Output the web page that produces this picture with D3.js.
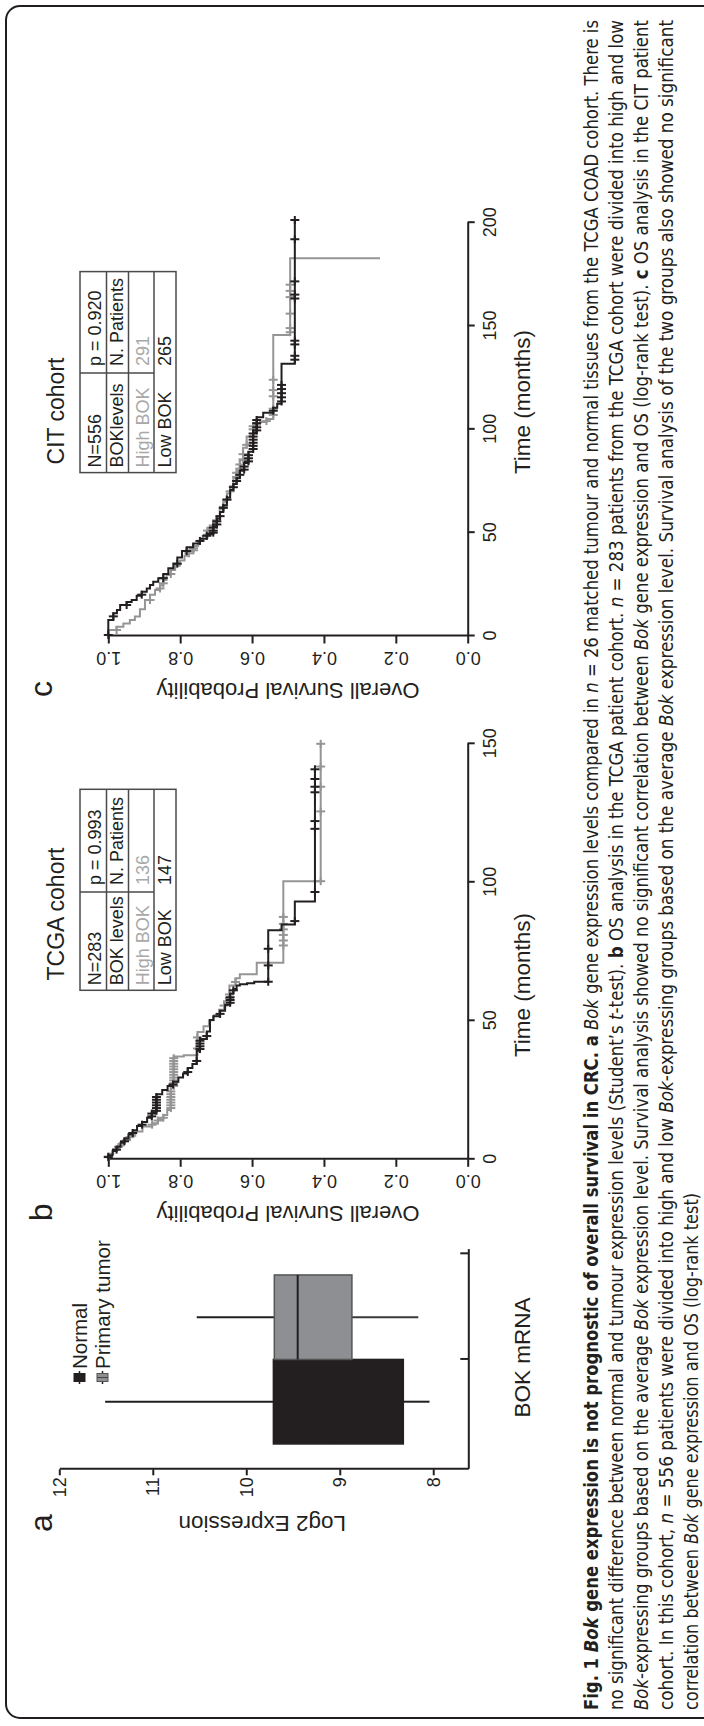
<!DOCTYPE html>
<html>
<head>
<meta charset="utf-8">
<script src="https://cdn.jsdelivr.net/npm/d3@7"></script>
<style>
  body { margin: 0; background: #fff; }
  svg { display: block; }
  .axis path, .axis line { stroke: #231f20; stroke-width: 2; }
  .axis text { fill: #231f20; font-family: "Liberation Sans", Arial, sans-serif; font-size: 18px; }
</style>
</head>
<body>
<div id="chart"></div>
<script>
const W = 704, H = 1726;
const INK = "#231f20";
const GREY = "#959595";
const FONT = '"Liberation Sans", Arial, Helvetica, sans-serif';
const CAPTION_FONT = '"Liberation Sans Narrow", "DejaVu Sans Condensed", "Roboto Condensed", "Liberation Sans", sans-serif';

// ---- panel a: BOK mRNA box plot ----
const boxGroups = ["Normal", "Primary tumor"];
// [min, q1, median, q3, max]
const boxStats = [
  [8.04, 8.32, 9.05, 9.71, 11.51],
  [8.16, 8.87, 9.45, 9.70, 10.53],
];
const boxFills = [INK, "#8e8f92"];
const exprTicks = [8, 9, 10, 11, 12];

// ---- panel b: TCGA cohort, Kaplan-Meier [months, survival] ----
const tcgaLow = [
  [0, 1], [1.5, 0.988], [3, 0.977], [4.5, 0.966], [6, 0.955], [7.5, 0.944], [9, 0.932],
  [10.5, 0.92], [12, 0.906], [13.5, 0.892], [15, 0.879], [17, 0.866], [23.5, 0.85],
  [25, 0.835], [26.5, 0.82], [28, 0.805], [29.5, 0.792], [31, 0.779], [33, 0.766],
  [34.4, 0.754], [39.2, 0.745], [43.4, 0.726], [46.1, 0.717], [50.3, 0.708], [51.6, 0.689],
  [53.6, 0.675], [55.8, 0.661], [59.9, 0.652], [61.5, 0.643], [62.7, 0.634], [63.2, 0.614],
  [63.6, 0.594], [64.1, 0.555], [82.7, 0.518], [84.8, 0.481], [93.1, 0.425], [141, 0.425],
];
const tcgaLowCensor = [0.8, 3.5, 6.5, 9.5, 12.5, 15.5, 16.5, 17.5, 18.5, 19.5, 20.5, 21.5, 22.5,
  27, 31.5, 35.5, 39.8, 40.8, 41.8, 42.8, 44.5, 52.5, 56.5, 57.5, 58.5, 61, 64.1, 70, 76, 86,
  96.5, 119.3, 122.1, 132.5, 134.5, 137.3, 140.8];
const tcgaHigh = [
  [0, 1], [2, 0.986], [3.5, 0.972], [5, 0.958], [7, 0.94], [8.5, 0.925], [10, 0.905],
  [11.8, 0.878], [13, 0.862], [14.5, 0.847], [16, 0.836], [17.8, 0.826], [26, 0.818],
  [37.1, 0.79], [37.6, 0.752], [46, 0.735], [48, 0.72], [50.2, 0.706], [52, 0.692],
  [54, 0.678], [57.1, 0.663], [62.7, 0.646], [65.4, 0.634], [66.8, 0.587], [71, 0.513],
  [100.4, 0.409], [150, 0.409],
];
const tcgaHighCensor = [1, 4.5, 8, 12.5, 14, 15, 18.5, 19.5, 20.5, 21.5, 22.5, 23.5, 24.5,
  26.5, 27.5, 28.5, 29.5, 30.5, 31.5, 32.5, 33.5, 34.5, 35.5, 36.5, 40, 44, 55.5, 58.2, 59.5,
  64, 77.2, 79, 81, 83, 85, 87.5, 100.4, 125.6, 134.5, 141.8, 150];
const tcgaTable = [["N=283", "p = 0.993"], ["BOK levels", "N. Patients"], ["High BOK", "136"], ["Low BOK", "147"]];

// ---- panel c: CIT cohort ----
const citLow = [
  [0, 1], [7.7, 0.986], [11, 0.976], [12.6, 0.967], [15, 0.949], [16.5, 0.935], [17.4, 0.921],
  [19.5, 0.907], [21.4, 0.893], [23, 0.884], [24.7, 0.875], [26.3, 0.861], [27.9, 0.847],
  [30, 0.833], [32.8, 0.819], [35, 0.808], [38, 0.795], [41.1, 0.782], [43, 0.764],
  [44.8, 0.745], [47, 0.726], [49.4, 0.708], [53, 0.698], [56.8, 0.689], [60, 0.68],
  [63.3, 0.67], [67, 0.661], [70.7, 0.652], [73.5, 0.643], [76.3, 0.634], [80, 0.622],
  [83.7, 0.61], [89.2, 0.597], [98.5, 0.587], [105.9, 0.569], [108, 0.541], [110.5, 0.53],
  [112.4, 0.518], [131.8, 0.481], [201.3, 0.481],
];
const citLowCensor = [0.5, 9.5, 15, 20, 28, 35, 41.1, 46, 48.5, 50, 51, 52.5, 54, 55.5, 58, 62,
  66, 72, 75, 78, 80.5, 82, 84.5, 86, 87.5, 90.5, 92, 93.5, 95, 96.5, 98, 99.5, 101, 103, 104.5,
  109, 113.5, 115.5, 117.5, 119.5, 121.5, 133.7, 135.6, 141.1, 142.9, 163.3, 165.2, 171.6, 192, 201.3];
const citHigh = [
  [0, 1], [2.9, 0.977], [4.5, 0.958], [6.1, 0.94], [7.8, 0.926], [9.4, 0.912], [13, 0.898],
  [17.4, 0.884], [20, 0.87], [22.3, 0.856], [24.5, 0.847], [27.1, 0.838], [29.5, 0.826],
  [31.9, 0.814], [34, 0.801], [36.5, 0.788], [38.8, 0.776], [41, 0.763], [43.5, 0.75],
  [46, 0.737], [48.5, 0.724], [52.2, 0.708], [55, 0.699], [58, 0.69], [61.5, 0.68],
  [65, 0.67], [68.9, 0.661], [72.5, 0.652], [76.5, 0.643], [80, 0.634], [85, 0.625],
  [91.1, 0.615], [96.6, 0.597], [102.2, 0.578], [103.5, 0.56], [105, 0.541], [145.7, 0.494],
  [182.8, 0.244],
];
const citHighCensor = [2.9, 17.4, 23, 25.5, 30, 40, 41.5, 42.5, 49, 51, 53.5, 56, 62.5, 66, 70,
  77, 79, 81, 83, 85.5, 88, 92.5, 100, 101.5, 104, 107, 110, 116, 119, 124, 147, 149, 156, 164, 167, 170];
const citTable = [["N=556", "p = 0.920"], ["BOKlevels", "N. Patients"], ["High BOK", "291"], ["Low BOK", "265"]];

const survTicks = [0, 0.2, 0.4, 0.6, 0.8, 1.0];

// ---- caption: one array per line, [text, style] ----
const captionLines = [
  [["Fig. 1 ", "b"], ["Bok", "bi"], [" gene expression is not prognostic of overall survival in CRC.", "b"], [" a", "b"],
   [" ", ""], ["Bok", "i"], [" gene expression levels compared in ", ""], ["n", "i"],
   [" = 26 matched tumour and normal tissues from the TCGA COAD cohort. There is", ""]],
  [["no significant difference between normal and tumour expression levels (Student\u2019s ", ""], ["t", "i"],
   ["-test). ", ""], ["b", "b"], [" OS analysis in the TCGA patient cohort. ", ""], ["n", "i"],
   [" = 283 patients from the TCGA cohort were divided into high and low", ""]],
  [["Bok", "i"], ["-expressing groups based on the average ", ""], ["Bok", "i"],
   [" expression level. Survival analysis showed no significant correlation between ", ""], ["Bok", "i"],
   [" gene expression and OS (log-rank test). ", ""], ["c", "b"], [" OS analysis in the CIT patient", ""]],
  [["cohort. In this cohort, ", ""], ["n", "i"], [" = 556 patients were divided into high and low ", ""], ["Bok", "i"],
   ["-expressing groups based on the average ", ""], ["Bok", "i"],
   [" expression level. Survival analysis of the two groups also showed no significant", ""]],
  [["correlation between ", ""], ["Bok", "i"], [" gene expression and OS (log-rank test)", ""]],
];
const captionLengths = [1690, 1690, 1690, 1690, 517];

// ------------------------------------------------------------------
const svg = d3.select("#chart").append("svg").attr("width", W).attr("height", H);
// figure is laid out landscape and turned a quarter turn anticlockwise
const fig = svg.append("g").attr("transform", `translate(0,${H}) rotate(-90)`);

fig.append("rect")
  .attr("x", 8).attr("y", 6).attr("width", 1712).attr("height", 780).attr("rx", 14)
  .attr("fill", "none").attr("stroke", INK).attr("stroke-width", 2);

function label(g, text, x, y, size, opts = {}) {
  const t = g.append("text")
    .attr("x", x).attr("y", y)
    .attr("font-family", FONT).attr("font-size", size)
    .attr("fill", opts.fill || INK)
    .attr("text-anchor", opts.anchor || "middle")
    .text(text);
  if (opts.rotate) t.attr("transform", `rotate(${opts.rotate},${x},${y})`);
  return t;
}

// ---------------- panel a ----------------
const pa = fig.append("g");
const yExpr = d3.scaleLinear().domain([7.625, 12]).range([468.3, 59.3]);
const xCat = d3.scaleLinear().domain([-0.3, 2.3]).range([256.7, 476.4]);

pa.append("g").attr("class", "axis")
  .attr("transform", `translate(${xCat(-0.3)},0)`)
  .call(d3.axisLeft(yExpr).tickValues(exprTicks).tickFormat(d3.format("d"))
    .tickSize(6).tickPadding(2).tickSizeOuter(0));

pa.append("g").attr("class", "axis")
  .attr("transform", `translate(0,${yExpr(7.625)})`)
  .call(d3.axisBottom(xCat).tickValues([1, 2.25]).tickSize(-8).tickFormat("").tickSizeOuter(0));

boxStats.forEach((s, i) => {
  const [mn, q1, med, q3, mx] = s;
  const x0 = xCat(i), x1 = xCat(i + 1), xc = (x0 + x1) / 2;
  const g = pa.append("g");
  g.append("line").attr("x1", xc).attr("x2", xc).attr("y1", yExpr(mx)).attr("y2", yExpr(q3))
    .attr("stroke", INK).attr("stroke-width", 2);
  g.append("line").attr("x1", xc).attr("x2", xc).attr("y1", yExpr(q1)).attr("y2", yExpr(mn))
    .attr("stroke", i === 0 ? INK : "#3a3a3a").attr("stroke-width", 2);
  g.append("rect").attr("x", x0).attr("width", x1 - x0)
    .attr("y", yExpr(q3)).attr("height", yExpr(q1) - yExpr(q3))
    .attr("fill", boxFills[i]).attr("stroke", i === 0 ? INK : "#555").attr("stroke-width", 1.5);
  g.append("line").attr("x1", x0).attr("x2", x1).attr("y1", yExpr(med)).attr("y2", yExpr(med))
    .attr("stroke", INK).attr("stroke-width", 2);
});

label(pa, "BOK mRNA", xCat(1) + 2, 530, 22.5);
label(pa, "Log2 Expression", 210, yExpr(10) + 16, 22.5, { rotate: -90 });
label(pa, "a", 203, 52, 32);

// legend
boxGroups.forEach((name, i) => {
  const cy = 79.5 + i * 23;
  const g = pa.append("g");
  g.append("line").attr("x1", 342).attr("x2", 355).attr("y1", cy).attr("y2", cy)
    .attr("stroke", INK).attr("stroke-width", 1.5);
  g.append("rect").attr("x", 344.5).attr("y", cy - 5.5).attr("width", 8).attr("height", 11)
    .attr("fill", boxFills[i]).attr("stroke", i === 0 ? INK : "#555").attr("stroke-width", 1);
  if (i === 1) {
    g.append("line").attr("x1", 348.5).attr("x2", 348.5).attr("y1", cy - 5.5).attr("y2", cy + 5.5)
      .attr("stroke", "#444").attr("stroke-width", 1);
  }
  label(g, name, 357, cy + 7, 20.5, { anchor: "start" });
});

// ---------------- KM panels ----------------
function stepValue(series, t) {
  let s = series[0][1];
  for (const [ti, si] of series) { if (ti <= t) s = si; else break; }
  return s;
}

function drawKM(cfg) {
  const g = fig.append("g");
  const x = d3.scaleLinear().domain([0, cfg.tMax]).range([cfg.u0, cfg.u1]);
  const y = d3.scaleLinear().domain([0, 1]).range([467.7, 108.3]);

  g.append("g").attr("class", "axis")
    .attr("transform", `translate(0,${y(0)})`)
    .call(d3.axisBottom(x).tickValues(cfg.timeTicks).tickSize(7).tickPadding(8.6).tickSizeOuter(0));

  const ya = g.append("g").attr("class", "axis")
    .attr("transform", `translate(${x(0)},0)`)
    .call(d3.axisLeft(y).tickValues(survTicks).tickFormat(d3.format(".1f")).tickSize(7.5).tickSizeOuter(0));
  ya.selectAll(".tick text")
    .attr("x", null).attr("dy", null)
    .attr("text-anchor", "middle")
    .attr("transform", "translate(-15.7,0) rotate(-90)");

  const line = d3.line().curve(d3.curveStepAfter).x(d => x(d[0])).y(d => y(d[1]));

  cfg.series.forEach(sr => {
    g.append("path").datum(sr.data).attr("d", line)
      .attr("fill", "none").attr("stroke", sr.color).attr("stroke-width", 2);
    const marks = g.append("g").attr("stroke", sr.color).attr("stroke-width", 2);
    sr.censor.forEach(t => {
      const cx = x(t), cy = y(stepValue(sr.data, t));
      marks.append("line").attr("x1", cx - 4).attr("x2", cx + 4).attr("y1", cy).attr("y2", cy);
      marks.append("line").attr("x1", cx).attr("x2", cx).attr("y1", cy - 4.5).attr("y2", cy + 4.5);
    });
  });

  // legend table
  const tb = cfg.table;
  const tg = g.append("g");
  const rows = [80, 106.5, 128.5, 154, 176];
  const tx0 = tb.u, tx1 = tb.u + 201, divider = tb.u + tb.div;
  tg.append("rect").attr("x", tx0).attr("y", rows[0]).attr("width", tx1 - tx0).attr("height", rows[4] - rows[0])
    .attr("fill", "#fff").attr("stroke", "#4a4a4a").attr("stroke-width", 1.5);
  rows.slice(1, 4).forEach(r => tg.append("line").attr("x1", tx0).attr("x2", tx1).attr("y1", r).attr("y2", r)
    .attr("stroke", "#4a4a4a").attr("stroke-width", 1.5));
  tg.append("line").attr("x1", divider).attr("x2", divider).attr("y1", rows[0]).attr("y2", rows[3])
    .attr("stroke", "#4a4a4a").attr("stroke-width", 1.5);
  tb.rows.forEach((row, i) => {
    const base = rows[i + 1] - 5.5;
    const fill = i === 2 ? "#a8a8a8" : INK;
    label(tg, row[0], tx0 + 5, base, 18, { anchor: "start", fill });
    label(tg, row[1], divider + 7, base, 18, { anchor: "start", fill });
  });

  label(g, cfg.title, cfg.titleU, 64, 23);
  label(g, "Time (months)", cfg.xlabU, 530, 22.5);
  label(g, "Overall Survival Probability", x(0) - 46.5, y(0.5) + 0, 22, { rotate: -90 });
  label(g, cfg.letter, x(0) - 53, 52, 32);
}

drawKM({
  u0: 566.7, u1: 982.2, tMax: 150, timeTicks: [0, 50, 100, 150],
  series: [
    { data: tcgaHigh, censor: tcgaHighCensor, color: GREY },
    { data: tcgaLow, censor: tcgaLowCensor, color: INK },
  ],
  table: { u: 735.7, div: 98.3, rows: tcgaTable },
  title: "TCGA cohort", titleU: 812, xlabU: 741, letter: "b",
});

drawKM({
  u0: 1090, u1: 1503.3, tMax: 200, timeTicks: [0, 50, 100, 150, 200],
  series: [
    { data: citHigh, censor: citHighCensor, color: GREY },
    { data: citLow, censor: citLowCensor, color: INK },
  ],
  table: { u: 1253.4, div: 99.6, rows: citTable },
  title: "CIT cohort", titleU: 1315, xlabU: 1324, letter: "c",
});

// ---------------- caption ----------------
const cap = fig.append("g");
captionLines.forEach((segs, i) => {
  const t = cap.append("text")
    .attr("x", 16).attr("y", 598 + i * 25)
    .attr("font-family", CAPTION_FONT).attr("font-size", 19)
    .attr("fill", INK)
    .attr("textLength", captionLengths[i]).attr("lengthAdjust", "spacingAndGlyphs");
  segs.forEach(([txt, st]) => {
    t.append("tspan").text(txt)
      .attr("font-weight", st.includes("b") ? "bold" : null)
      .attr("font-style", st.includes("i") ? "italic" : null);
  });
});
</script>
</body>
</html>
